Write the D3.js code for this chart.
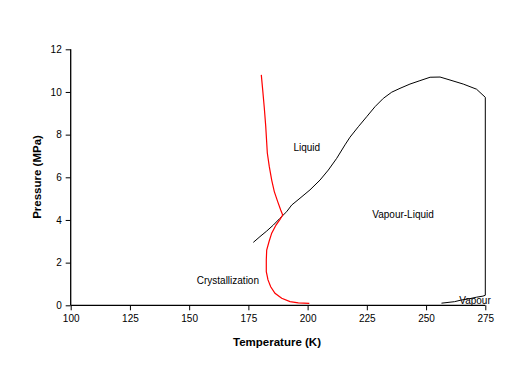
<!DOCTYPE html>
<html><head><meta charset="utf-8">
<script src="https://cdn.jsdelivr.net/npm/d3@7/dist/d3.min.js"></script>
<style>body{margin:0;background:#fff}svg{display:block}text{font-family:"Liberation Sans",Arial,sans-serif}</style>
</head><body><svg id="c" width="523" height="391"></svg>
<script>
// Crystallization curve (T in K, P in MPa)
const crystT = [180.45,181.04,181.72,182.31,182.99,183.83,184.84,185.94,187.37,188.64,189.48,188.35,186.66,184.84,183.70,182.73,182.56,182.56,183.28,184.42,186.23,189.06,192.57,196.07,200.71];
const crystP = [10.8,10.10,9.25,8.41,7.14,6.50,5.87,5.33,4.86,4.47,4.23,4.03,3.76,3.38,2.98,2.59,2.12,1.58,1.19,0.87,0.56,0.33,0.17,0.11,0.09];
// Vapour-liquid envelope (bubble line, critical region, then dew line)
const vlT = [177.08,179.9,182.73,185.52,188.35,191.17,193.28,196.79,201.01,205.23,208.74,212.28,215.78,217.89,221.4,224.94,228.45,231.95,235.5,239.0,243.2,247.4,251.7,255.9,260.1,265.7,271.3,275.0,275.0,274.0,271.3,268.0,265.0,262.0,256.5];
const vlP = [2.95,3.22,3.48,3.76,4.08,4.39,4.70,5.02,5.41,5.87,6.34,6.89,7.52,7.88,8.37,8.84,9.31,9.70,9.99,10.17,10.37,10.53,10.69,10.70,10.56,10.37,10.13,9.75,0.47,0.43,0.38,0.30,0.25,0.17,0.10];
const xTicks = [100,125,150,175,200,225,250,275];
const yTicks = [0,2,4,6,8,10,12];
const regionLabels = ["Liquid","Vapour-Liquid","Crystallization","Vapour"];
const labelT = [194.0, 227.3, 153.2, 264.0];
const labelP = [7.38, 4.27, 1.15, 0.22];

const svg = d3.select("#c");
const x = d3.scaleLinear().domain([100,275]).range([70.7,485.3]);
const y = d3.scaleLinear().domain([0,12]).range([305.3,49.3]);

const xa = svg.append("g").attr("transform","translate(0,305.3)")
  .call(d3.axisBottom(x).tickValues(xTicks).tickSize(5).tickPadding(5).tickFormat(d3.format("d")));
const ya = svg.append("g").attr("transform","translate(70.7,0)")
  .call(d3.axisLeft(y).tickValues(yTicks).tickSize(5).tickPadding(4).tickFormat(d3.format("d")));
[xa,ya].forEach(a=>{
  a.select(".domain").attr("stroke","#000").attr("stroke-width",1.3);
  a.selectAll(".tick line").attr("stroke","#000");
  a.selectAll(".tick text").attr("font-size","10px").attr("fill","#000").attr("font-family","'Liberation Sans',Arial,sans-serif");
});
xa.select(".domain").attr("d","M70.7,0H485.3");
ya.select(".domain").attr("d","M0,305.3V49.3");

const line = d3.line().x(d=>x(d[0])).y(d=>y(d[1]));
svg.append("path").datum(vlT.map((t,i)=>[t,vlP[i]])).attr("d",line)
  .attr("fill","none").attr("stroke","#000").attr("stroke-width",1);
svg.append("path").datum(crystT.map((t,i)=>[t,crystP[i]])).attr("d",line)
  .attr("fill","none").attr("stroke","#f00").attr("stroke-width",1.2);

svg.selectAll("text.lbl").data(regionLabels).enter().append("text")
  .attr("class","lbl").attr("x",(d,i)=>x(labelT[i])).attr("y",(d,i)=>y(labelP[i]))
  .attr("dy","0.35em").attr("font-size","10px").attr("fill","#000").text(d=>d);

svg.append("text").attr("x",277).attr("y",346).attr("text-anchor","middle")
  .attr("font-size","11.5px").attr("font-weight","bold").text("Temperature (K)");
svg.append("text").attr("transform","translate(41,177) rotate(-90)").attr("text-anchor","middle")
  .attr("font-size","11.5px").attr("font-weight","bold").text("Pressure (MPa)");
</script></body></html>
